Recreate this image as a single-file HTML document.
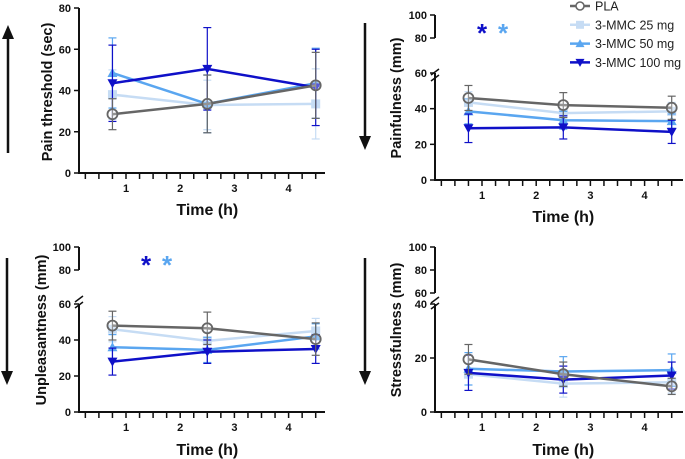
<!DOCTYPE html>
<html><head><meta charset="utf-8">
<style>
body{margin:0;background:#fff;}
svg{display:block;font-family:"Liberation Sans",Arial,sans-serif;}
.tk{font-size:11px;font-weight:bold;fill:#111;}
.lab{font-size:14.5px;font-weight:bold;fill:#111;}
</style></head>
<body>
<svg id="c" width="685" height="459" viewBox="0 0 685 459"></svg>
<script>
const times = [0.75, 2.5, 4.5];
const seriesNames = ["PLA", "3-MMC 25 mg", "3-MMC 50 mg", "3-MMC 100 mg"];
const xTickLabels = ["1", "2", "3", "4"];
// Panel A: pain threshold
const painThrPLA = [28.5, 33.5, 42.5];
const painThr25 = [38, 33, 33.5];
const painThr50 = [48.5, 33.5, 43.5];
const painThr100 = [43.5, 50.5, 41.5];
const painThrErr = [[7.5, 14, 16], [12, 12, 17], [17, 14, 17], [18.5, 20, 18.5]];
// Panel B: painfulness
const painfulPLA = [46, 42, 40.5];
const painful25 = [43.5, 37.5, 38.5];
const painful50 = [38.5, 33.5, 33];
const painful100 = [29, 29.5, 27];
const painfulErr = [[7, 7, 6.5], [6, 5, 5], [7, 5, 4], [8, 6.5, 6.5]];
// Panel C: unpleasantness
const unplPLA = [48, 46.5, 40.5];
const unpl25 = [46, 39.5, 45];
const unpl50 = [36, 34.5, 42];
const unpl100 = [28, 33.5, 35];
const unplErr = [[8, 9, 9], [7, 5, 7], [7, 7, 7], [7.5, 6.5, 8]];
// Panel D: stressfulness
const stressPLA = [19.5, 14, 9.5];
const stress25 = [14, 10.5, 11];
const stress50 = [16, 15, 15.5];
const stress100 = [14.5, 12, 13.5];
const stressErr = [[5.5, 4.5, 3], [4, 5, 4], [6, 5.5, 6], [6.5, 5, 5]];

const colors = ["#666666", "#c6dcf4", "#5aa6f0", "#0f10c8"];
const NS = "http://www.w3.org/2000/svg";
const svg = document.getElementById("c");
function el(tag, attrs, parent) {
  const e = document.createElementNS(NS, tag);
  for (const k in attrs) e.setAttribute(k, attrs[k]);
  (parent || svg).appendChild(e);
  return e;
}

const panels = [
  {name:"pain-threshold", ax:79, x1:126, x0px:325, y0:173, segs:[[0,80,173,8]], ticks:[0,20,40,60,80], label:"Pain threshold (sec)", lx:47, ly:92, series:[painThrPLA,painThr25,painThr50,painThr100], err:painThrErr, arrow:[8,153,25], xl:215},
  {name:"painfulness", ax:435, x1:482, x0px:683, y0:180, segs:[[0,60,180,73],[80,100,38,15]], ticks:[0,20,40,60,80,100], label:"Painfulness (mm)", lx:396, ly:98, series:[painfulPLA,painful25,painful50,painful100], err:painfulErr, arrow:[365,23,150], xl:222, stars:[482,30], brk:70},
  {name:"unpleasantness", ax:79, x1:126, x0px:325, y0:412, segs:[[0,60,412,304],[80,100,270,247]], ticks:[0,20,40,60,80,100], label:"Unpleasantness (mm)", lx:41, ly:330, series:[unplPLA,unpl25,unpl50,unpl100], err:unplErr, arrow:[7,258,385], xl:455, stars:[146,262], brk:297},
  {name:"stressfulness", ax:435, x1:482, x0px:683, y0:412, segs:[[0,40,412,304],[60,100,293,247]], ticks:[0,20,40,60,80,100], label:"Stressfulness (mm)", lx:396, ly:330, series:[stressPLA,stress25,stress50,stress100], err:stressErr, arrow:[365,258,385], xl:455, brk:298}
];

function yScale(p, v) {
  for (const s of p.segs) {
    if (v >= s[0] && v <= s[1]) return s[2] + (v - s[0]) / (s[1] - s[0]) * (s[3] - s[2]);
  }
  return null;
}

panels.forEach(p => {
  const g = el("g", {});
  
  
  const hw = 54.2;
  const xs = t => p.x1 + hw * (t - 1);
  if (p.segs.length === 1) {
    el("line", {x1:p.ax, y1:p.segs[0][3], x2:p.ax, y2:p.y0, stroke:"#111", "stroke-width":2}, g);
  } else {
    p.segs.forEach(s => el("line", {x1:p.ax, y1:s[3], x2:p.ax, y2:s[2], stroke:"#111", "stroke-width":2}, g));
    el("line", {x1:p.ax-4, y1:p.brk+5, x2:p.ax+4, y2:p.brk-1, stroke:"#111", "stroke-width":1.5}, g);
    el("line", {x1:p.ax-4, y1:p.brk+11, x2:p.ax+4, y2:p.brk+5, stroke:"#111", "stroke-width":1.5}, g);
  }
  p.ticks.forEach(v => {
    const y = yScale(p, v);
    if (y === null) return;
    el("line", {x1:p.ax-5, y1:y, x2:p.ax, y2:y, stroke:"#111", "stroke-width":1.5}, g);
    const t = el("text", {x:p.ax-8, y:y+4, "text-anchor":"end", class:"tk"}, g);
    t.textContent = v;
    
    
  });
  el("line", {x1:p.ax-1, y1:p.y0, x2:p.x0px, y2:p.y0, stroke:"#111", "stroke-width":2}, g);
  for (let t = 0.25; t <= 4.76; t += 0.25) {
    const x = xs(t);
    if (x > p.x0px) break;
    el("line", {x1:x, y1:p.y0, x2:x, y2:p.y0+6, stroke:"#111", "stroke-width":1.5}, g);
  }
  xTickLabels.forEach((l, i) => {
    const t = el("text", {x:xs(i+1), y:p.y0+19, "text-anchor":"middle", class:"tk"}, g);
    t.textContent = l;
    
    
  });
  const xt = el("text", {x:xs(2.5), y:p.xl, "text-anchor":"middle", class:"lab", style:"font-size:16px"}, g);
  xt.textContent = "Time (h)";
  
  
  const yt = el("text", {x:p.lx, y:p.ly, "text-anchor":"middle", class:"lab", transform:`rotate(-90 ${p.lx} ${p.ly})`, dy:"5"}, g);
  yt.textContent = p.label;
  
  
  const [ax, ya, yb] = p.arrow;
  const dir = yb > ya ? 1 : -1;
  el("line", {x1:ax, y1:ya, x2:ax, y2:yb - dir*12, stroke:"#111", "stroke-width":2.5}, g);
  const ah = el("polygon", {points:`${ax-6},${yb-dir*14} ${ax+6},${yb-dir*14} ${ax},${yb}`, fill:"#111"}, g);
  
  
  [1,2,3,0].forEach(si => {
    const vals = p.series[si], errs = p.err[si], c = colors[si];
    const sg = el("g", {}, g);
    
    
    vals.forEach((v, i) => {
      const x = xs(times[i]);
      const yt2 = yScale(p, v + errs[i]), yb2 = yScale(p, Math.max(0, v - errs[i]));
      el("line", {x1:x, y1:yt2, x2:x, y2:yb2, stroke:c, "stroke-width":1.2}, sg);
      el("line", {x1:x-4, y1:yt2, x2:x+4, y2:yt2, stroke:c, "stroke-width":1.2}, sg);
      el("line", {x1:x-4, y1:yb2, x2:x+4, y2:yb2, stroke:c, "stroke-width":1.2}, sg);
    });
    const pts = vals.map((v, i) => xs(times[i]) + "," + yScale(p, v)).join(" ");
    el("polyline", {points:pts, fill:"none", stroke:c, "stroke-width":2.5}, sg);
    vals.forEach((v, i) => {
      const x = xs(times[i]), y = yScale(p, v);
      let m;
      if (si === 0) m = el("circle", {cx:x, cy:y, r:5, fill:"#fff", "fill-opacity":0.3, stroke:c, "stroke-width":1.8}, sg);
      else if (si === 1) m = el("rect", {x:x-4.5, y:y-4.5, width:9, height:9, fill:c}, sg);
      else if (si === 2) m = el("polygon", {points:`${x-5},${y+4} ${x+5},${y+4} ${x},${y-5}`, fill:c}, sg);
      else m = el("polygon", {points:`${x-5},${y-4} ${x+5},${y-4} ${x},${y+5}`, fill:c}, sg);
      
      
    });
  });
  if (p.stars) {
    [[colors[3], 0], [colors[2], 21]].forEach(([c, dx]) => {
      const s = el("text", {x:p.stars[0]+dx, y:p.stars[1]+12, "text-anchor":"middle", fill:c, "font-size":"26", "font-weight":"bold"}, g);
      s.textContent = "*";
      
      
    });
  }
});

const lg = el("g", {});


seriesNames.forEach((n, i) => {
  const y = 6 + i * 18.8, c = colors[i], x = 580;
  const eg = el("g", {}, lg);
  
  
  el("line", {x1:570, y1:y, x2:590, y2:y, stroke:c, "stroke-width":2.5}, eg);
  if (i === 0) el("circle", {cx:x, cy:y, r:4, fill:"#fff", stroke:c, "stroke-width":1.6}, eg);
  else if (i === 1) el("rect", {x:x-4, y:y-4, width:8, height:8, fill:c}, eg);
  else if (i === 2) el("polygon", {points:`${x-4.5},${y+3.5} ${x+4.5},${y+3.5} ${x},${y-4.5}`, fill:c}, eg);
  else el("polygon", {points:`${x-4.5},${y-3.5} ${x+4.5},${y-3.5} ${x},${y+4.5}`, fill:c}, eg);
  const t = el("text", {x:595, y:y+4.5, "font-size":"12.5", fill:"#222"}, eg);
  t.textContent = n;
});
</script>
</body></html>
